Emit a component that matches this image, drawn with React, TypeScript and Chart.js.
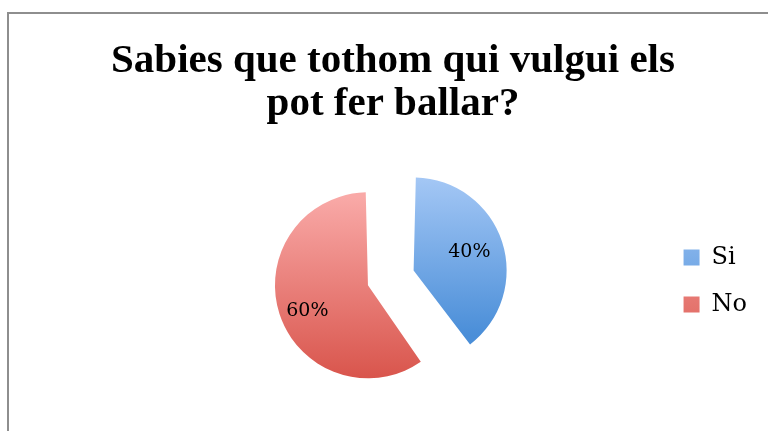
import React, { useEffect, useRef } from 'react';
import { Chart, registerables, layouts } from 'chart.js';

Chart.register(...registerables);

// ---- data ----
const categories = ['Si', 'No'];
const values = [40, 60];
const titleLines = ['Sabies que tothom qui vulgui els', 'pot fer ballar?'];

// ---- styles ----
const sliceOffsets = [136, 56];
const gradientStops = [
  ['#aacbf7', '#4a8ed8'],
  ['#f9a9a7', '#d8534a'],
];
const labelRadius = [0.63, 0.71];
const labelAngleShift = [0, -0.094];
const LEFT_SPACER = 73;

function sliceGeometry(chart: any, i: number) {
  const area = chart.chartArea;
  const cx = (area.left + area.right) / 2;
  const cy = (area.top + area.bottom) / 2;
  const r = (Math.min(area.width, area.height) - Math.max(...sliceOffsets)) / 2;
  const data = chart.data.datasets[0].data as number[];
  const total = data.reduce((a, b) => a + b, 0);
  let acc = 0;
  for (let k = 0; k < i; k++) acc += data[k];
  const start = -Math.PI / 2 + (2 * Math.PI * acc) / total;
  const circ = (2 * Math.PI * data[i]) / total;
  const end = start + circ;
  const half = (start + end) / 2;
  const disp = sliceOffsets[i] / 4;
  const fix = 1 - Math.sin(Math.min(Math.PI, circ));
  const R = r + disp * fix;
  const ax = cx + Math.cos(half) * disp;
  const ay = cy + Math.sin(half) * disp;
  let minY = ay, maxY = ay;
  for (let s = 0; s <= 60; s++) {
    const a = start + (circ * s) / 60;
    const yy = ay + Math.sin(a) * R;
    minY = Math.min(minY, yy);
    maxY = Math.max(maxY, yy);
  }
  return { ax, ay, R, half, minY, maxY };
}

function sliceFill(c: any) {
  const chart = c.chart;
  const i = c.dataIndex ?? 0;
  const [top, bottom] = gradientStops[i % gradientStops.length];
  if (!chart.chartArea) return bottom;
  const g0 = sliceGeometry(chart, i);
  const g = chart.ctx.createLinearGradient(0, g0.minY, 0, g0.maxY);
  g.addColorStop(0, top);
  g.addColorStop(1, bottom);
  return g;
}

const framePlugin = {
  id: 'frame',
  beforeDraw(chart: any) {
    const ctx = chart.ctx;
    ctx.save();
    ctx.fillStyle = '#ffffff';
    ctx.fillRect(0, 0, chart.width, chart.height);
    ctx.strokeStyle = '#8e8e8e';
    ctx.lineWidth = 2;
    ctx.beginPath();
    ctx.moveTo(8, chart.height);
    ctx.lineTo(8, 13);
    ctx.lineTo(chart.width, 13);
    ctx.stroke();
    ctx.restore();
  },
};

const spacerPlugin = {
  id: 'leftSpacer',
  beforeInit(chart: any) {
    const box: any = {
      position: 'left',
      weight: 0,
      fullSize: false,
      options: {},
      left: 0, top: 0, right: 0, bottom: 0, width: 0, height: 0,
      isHorizontal() { return false; },
      update(maxWidth: number, maxHeight: number) {
        this.width = LEFT_SPACER;
        this.height = maxHeight;
      },
      draw() {},
    };
    layouts.addBox(chart, box);
  },
};

const labelPlugin = {
  id: 'sliceLabels',
  afterDatasetsDraw(chart: any) {
    const meta = chart.getDatasetMeta(0);
    const data = chart.data.datasets[0].data as number[];
    const total = data.reduce((a, b) => a + b, 0);
    const ctx = chart.ctx;
    ctx.save();
    ctx.font = '19px "DejaVu Serif"';
    ctx.fillStyle = '#000000';
    ctx.textAlign = 'center';
    ctx.textBaseline = 'middle';
    meta.data.forEach((arc: any, i: number) => {
      const g = sliceGeometry(chart, i);
      const rr = g.R * labelRadius[i];
      const ang = g.half + labelAngleShift[i];
      const text = Math.round((data[i] / total) * 100) + '%';
      ctx.fillText(text, g.ax + Math.cos(ang) * rr, g.ay + Math.sin(ang) * rr);
    });
    ctx.restore();
  },
};

export default function App() {
  const ref = useRef<HTMLCanvasElement | null>(null);

  useEffect(() => {
    if (!ref.current) return;
    const chart = new Chart(ref.current, {
      type: 'pie',
      data: {
        labels: categories,
        datasets: [
          {
            data: values,
            backgroundColor: sliceFill as any,
            borderWidth: 0,
            hoverBorderWidth: 0,
            offset: sliceOffsets,
            hoverOffset: 0,
          },
        ],
      },
      options: {
        responsive: false,
        animation: false,
        events: [],
        layout: { padding: { left: 29, right: 11, top: 0, bottom: 3 } },
        plugins: {
          title: {
            display: true,
            text: titleLines,
            color: '#000000',
            fullSize: true,
            font: { family: '"Liberation Serif"', size: 41, weight: 'bold', lineHeight: '43px' },
            padding: { top: 39.5, bottom: 8.5 },
          },
          legend: {
            display: true,
            position: 'right',
            fullSize: false,
            align: 'center',
            labels: {
              color: '#000000',
              boxWidth: 16,
              boxHeight: 16,
              padding: 23,
              font: { family: '"DejaVu Serif"', size: 24 },
            },
          },
          tooltip: { enabled: false },
        },
      },
      plugins: [framePlugin, spacerPlugin, labelPlugin],
    });
    return () => chart.destroy();
  }, []);

  return (
    <div style={{ position: 'fixed', left: 0, top: 0, width: 768, height: 431, background: '#fff' }}>
      <canvas ref={ref} width={768} height={431} style={{ display: 'block' }} />
    </div>
  );
}
